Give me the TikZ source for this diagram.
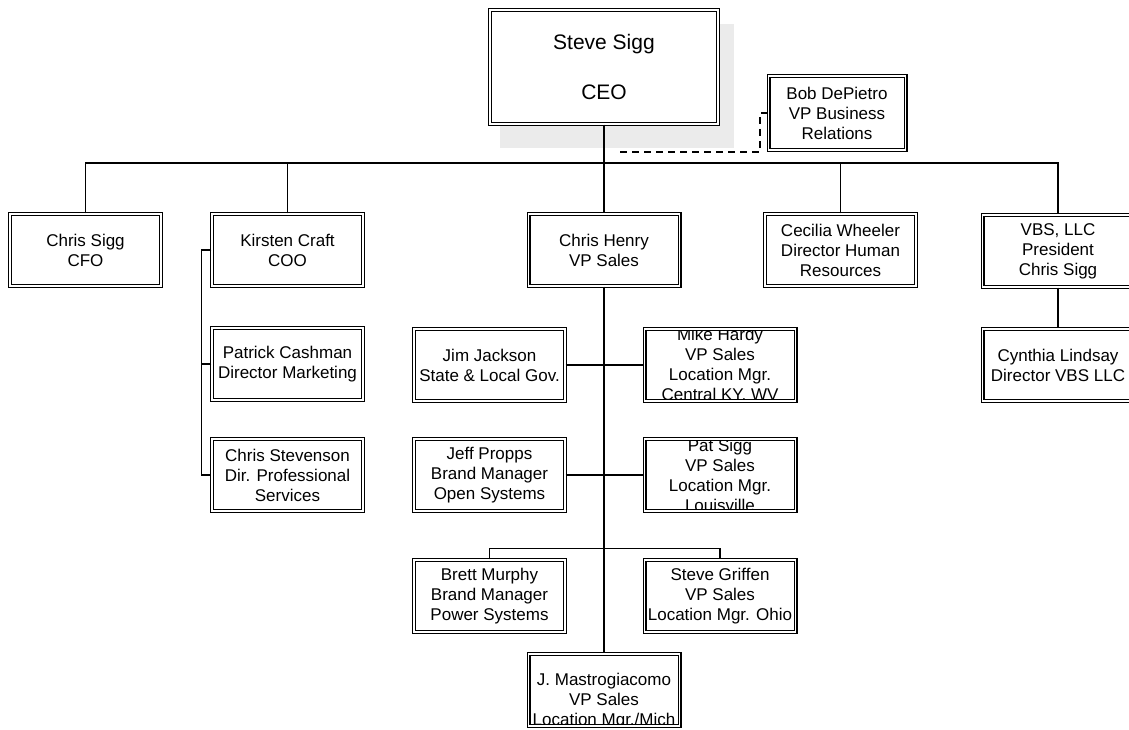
\documentclass[tikz,border=0pt]{standalone}
\usepackage{fontspec}
\setmainfont{Liberation Sans}
\begin{document}
\begin{tikzpicture}[x=1pt,y=-1pt,
    unit/.style={draw,double,line width=1.1pt,double distance=1.8pt,fill=white,
      minimum width=151pt,minimum height=72pt,inner sep=0pt,align=center,
      font=\fontsize{17}{20}\selectfont},
    cut/.style={path picture={\node[align=center,font=\fontsize{17}{20}\selectfont]
      at (path picture bounding box.center) {#1};}},
    link/.style={line width=1.2pt}]
    \useasboundingbox (0,0) rectangle (1129,730);
    \clip (0,0) rectangle (1129,730);

    % CEO and shadow
    \fill[black!8] (500,24) rectangle (734,148);
    \node[unit,minimum width=228pt,minimum height=114pt,font=\fontsize{21}{25}\selectfont]
      (ceo) at (604,67) {Steve Sigg\\[25pt]CEO};
    \node[unit,minimum width=137pt,minimum height=74pt] (bob) at (837,113)
      {Bob DePietro\\VP Business\\Relations};

    % Direct reports
    \node[unit] (cfo) at (85.5,250) {Chris Sigg\\CFO};
    \node[unit] (coo) at (287.5,250) {Kirsten Craft\\COO};
    \node[unit] (henry) at (604,250) {Chris Henry\\VP Sales};
    \node[unit] (hr) at (840.5,250) {Cecilia Wheeler\\Director Human\\Resources};
    \node[unit] (vbs) at (1058,251) {VBS, LLC\\President\\Chris Sigg};

    % Second level
    \node[unit] (patrick) at (287.5,364) {Patrick Cashman\\Director Marketing};
    \node[unit] (stevenson) at (287.5,475) {Chris Stevenson\\Dir. Professional\\Services};
    \node[unit] (lindsay) at (1058,365) {Cynthia Lindsay\\Director VBS LLC};

    \node[unit] (jackson) at (489.5,365) {Jim Jackson\\State \& Local Gov.};
    \node[unit,cut={Mike Hardy\\VP Sales\\Location Mgr.\\Central KY, WV}] (hardy) at (720,365) {};
    \node[unit] (propps) at (489.5,475) {Jeff Propps\\Brand Manager\\Open Systems};
    \node[unit,cut={Pat Sigg\\VP Sales\\Location Mgr.\\Louisville}] (patsigg) at (720,475) {};
    \node[unit] (murphy) at (489.5,596) {Brett Murphy\\Brand Manager\\Power Systems};
    \node[unit] (griffen) at (720,596) {Steve Griffen\\VP Sales\\Location Mgr. Ohio};
    \node[unit,cut={\strut\\J. Mastrogiacomo\\VP Sales\\Location Mgr./Mich}] (mastro) at (604,690) {};

    % Lines
    \coordinate (bus) at (0,163);
    \coordinate (dashend) at (615,152);
    \draw[link] (ceo.south) -- (henry.north);
    \draw[link] (cfo.north) |- (bus -| vbs.north) -- (vbs.north);
    \draw[link] (coo.north) -- (coo.north |- bus);
    \draw[link] (hr.north) -- (hr.north |- bus);
    \draw[link,dash pattern=on 7pt off 5pt] (bob.west) -- ++(-8,0) |- (dashend);

    \draw[link] (coo.west) -- ++(-10,0) |- (stevenson.west);
    \draw[link] (patrick.west) -- ++(-10,0);
    \draw[link] (vbs.south) -- (lindsay.north);

    \draw[link] (henry.south) -- (mastro.north);
    \draw[link] (jackson.east) -- (hardy.west);
    \draw[link] (propps.east) -- (patsigg.west);
    \draw[link] (murphy.north) -- ++(0,-11) -| (griffen.north);
\end{tikzpicture}
\end{document}
